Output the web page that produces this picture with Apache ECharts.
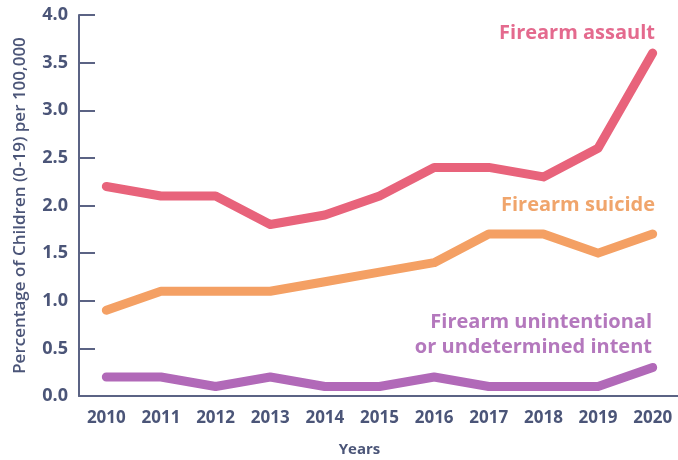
<!DOCTYPE html>
<html>
<head>
<meta charset="utf-8">
<script src="https://cdn.jsdelivr.net/npm/echarts@6/dist/echarts.min.js"></script>
<style>
  html, body { margin: 0; padding: 0; background: #fff; }
  #main { width: 678px; height: 460px; }
</style>
</head>
<body>
<div id="main"></div>
<script>
// 数据
var years = ['2010', '2011', '2012', '2013', '2014', '2015', '2016', '2017', '2018', '2019', '2020'];
var assault = [2.2, 2.1, 2.1, 1.8, 1.9, 2.1, 2.4, 2.4, 2.3, 2.6, 3.6];
var suicide = [0.9, 1.1, 1.1, 1.1, 1.2, 1.3, 1.4, 1.7, 1.7, 1.5, 1.7];
var unintentional = [0.2, 0.2, 0.1, 0.2, 0.1, 0.1, 0.2, 0.1, 0.1, 0.1, 0.3];
var yTicks = [0, 0.5, 1, 1.5, 2, 2.5, 3, 3.5, 4];

var axisColor = '#5b6384';
var labelColor = '#4b5578';
var font = 'Open Sans';

var chart = echarts.init(document.getElementById('main'));

function lineSeries(name, data, color) {
  return {
    name: name,
    type: 'line',
    data: data,
    symbol: 'none',
    lineStyle: { width: 9, color: color, cap: 'round', join: 'round' },
    z: 3
  };
}

var option = {
  animation: false,
  grid: { left: 79, right: -2, top: 15, bottom: 64, outerBoundsMode: 'none', containLabel: false },
  xAxis: {
    type: 'category',
    data: years,
    boundaryGap: true,
    name: 'Years',
    nameLocation: 'middle',
    nameGap: 46,
    nameTextStyle: { color: labelColor, fontSize: 15, fontWeight: 'bold', fontFamily: font, padding: [0, 40, 0, 0] },
    axisLine: { lineStyle: { color: axisColor, width: 2 } },
    axisTick: { inside: true, length: 8, alignWithLabel: false, lineStyle: { color: axisColor, width: 2 } },
    axisLabel: { color: labelColor, fontSize: 17, fontWeight: 'bold', fontFamily: font, margin: 14 },
    splitLine: { show: false }
  },
  yAxis: {
    type: 'value',
    min: yTicks[0],
    max: yTicks[yTicks.length - 1],
    interval: 0.5,
    name: 'Percentage of Children (0-19) per 100,000',
    nameLocation: 'middle',
    nameGap: 50,
    nameTextStyle: { color: labelColor, fontSize: 17, fontFamily: font, fontWeight: 600 },
    axisLine: { show: true, lineStyle: { color: axisColor, width: 2 } },
    axisTick: { show: true, inside: true, length: 16, lineStyle: { color: axisColor, width: 2 } },
    axisLabel: {
      color: labelColor, fontSize: 18, fontWeight: 'bold', fontFamily: font, margin: 11,
      formatter: function (v) { return v.toFixed(1); }
    },
    splitLine: { show: false }
  },
  series: [
    lineSeries('Firearm assault', assault, '#e8637b'),
    lineSeries('Firearm suicide', suicide, '#f4a064'),
    lineSeries('Firearm unintentional or undetermined intent', unintentional, '#b169b8')
  ],
  graphic: [
    { type: 'text', right: 23, top: 23, style: { text: 'Firearm assault', fill: '#e46a8e', font: 'bold 20px "Open Sans"', textAlign: 'right' } },
    { type: 'text', right: 23, top: 195, style: { text: 'Firearm suicide', fill: '#f0a56c', font: 'bold 20px "Open Sans"', textAlign: 'right' } },
    { type: 'text', right: 26, top: 310, style: { text: 'Firearm unintentional\nor undetermined intent', fill: '#b478bd', font: 'bold 20px "Open Sans"', textAlign: 'right', lineHeight: 25 } }
  ]
};

chart.setOption(option);
</script>
</body>
</html>
